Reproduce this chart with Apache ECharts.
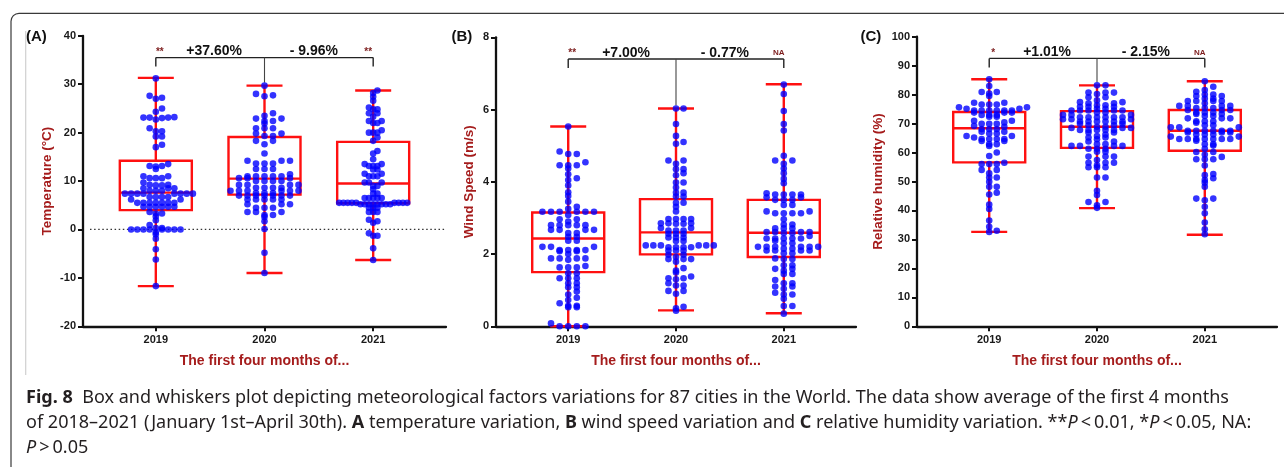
<!DOCTYPE html>
<html><head><meta charset="utf-8">
<script src="https://cdn.jsdelivr.net/npm/echarts@6/dist/echarts.min.js"></script>
<style>html,body{margin:0;padding:0;background:#fff;}#c{width:1284px;height:467px;}</style>
</head><body><div id="c"></div>
<script>
// ---------------- DATA ----------------
const years = ['2019', '2020', '2021'];

// box stats: [min, q1, median, q3, max]
const tempBox = [[-11.7, 4.0, 7.6, 14.2, 31.3], [-9.0, 7.2, 10.5, 19.1, 29.7], [-6.3, 5.4, 9.5, 18.1, 28.7]];
const windBox = [[0, 1.50, 2.43, 3.15, 5.53], [0.44, 1.99, 2.60, 3.52, 6.03], [0.36, 1.92, 2.59, 3.50, 6.70]];
const humBox = [[32.6, 56.6, 68.4, 74.0, 85.3], [40.8, 61.6, 68.9, 74.3, 83.2], [31.6, 60.6, 67.5, 74.7, 84.6]];

// individual city values
const tempY2019 = [31.2, 27.6, 27.2, 27.0, 25.0, 24.3, 23.2, 23.1, 23.1, 23.1, 23.0, 22.7, 20.9, 20.3, 20.3, 19.2, 19.2, 17.5, 17.0, 13.5, 13.1, 13.1, 13.0, 12.5, 11.0, 11.0, 10.6, 10.6, 10.6, 9.7, 9.2, 9.2, 9.1, 9.1, 8.5, 8.5, 8.5, 8.0, 8.0, 8.0, 7.4, 7.4, 7.4, 7.4, 7.4, 7.4, 7.4, 7.4, 6.7, 6.7, 6.7, 6.7, 6.2, 6.2, 5.5, 5.5, 5.5, 5.5, 5.5, 5.5, 5.5, 4.7, 4.7, 4.7, 4.7, 4.7, 4.7, 3.6, 3.3, 3.3, 2.7, 1.9, 0.9, 0.3, 0.3, 0, 0, 0, 0, 0, 0, 0, 0, -0.6, -1.0, -1.9, -4.1, -6.2, -11.7];
const tempY2020 = [29.7, 28.0, 27.7, 27.5, 24.0, 23.5, 22.9, 22.9, 22.4, 22.4, 21.9, 20.9, 20.9, 20.9, 19.8, 19.8, 19.3, 19.3, 18.3, 18.3, 17.6, 15.7, 14.2, 14.2, 14.2, 13.6, 13.6, 13.6, 12.5, 12.5, 12.5, 11.4, 11.0, 11.0, 11.0, 11.0, 11.0, 10.6, 10.6, 10.6, 10.0, 10.0, 10.0, 10.0, 9.2, 9.2, 9.2, 9.2, 8.6, 8.6, 8.6, 8.6, 8.0, 8.0, 8.0, 8.0, 8.0, 8.0, 7.5, 7.5, 7.5, 7.0, 7.0, 7.0, 7.0, 7.0, 7.0, 7.0, 6.2, 6.2, 6.2, 6.2, 6.2, 5.2, 5.2, 5.2, 4.5, 4.5, 4.5, 3.6, 3.6, 3.6, 3.0, 3.0, 2.6, 1.7, 0.1, -4.8, -9.0];
const tempY2021 = [28.7, 28.2, 27.4, 26.6, 25.2, 24.8, 24.8, 24.0, 24.0, 23.3, 22.4, 22.4, 22.0, 22.0, 20.5, 20.0, 20.0, 20.0, 19.0, 18.3, 16.2, 15.7, 14.5, 13.5, 13.5, 13.1, 13.1, 13.1, 12.4, 12.4, 11.5, 11.5, 11.0, 11.0, 11.0, 9.7, 9.7, 9.7, 9.0, 9.0, 8.3, 7.4, 7.4, 6.5, 6.5, 6.5, 6.5, 6.5, 5.5, 5.5, 5.5, 5.5, 5.5, 5.5, 5.5, 5.5, 5.5, 5.2, 5.2, 5.2, 5.2, 5.2, 5.2, 5.2, 5.2, 4.5, 4.5, 4.5, 3.6, 3.6, 3.6, 2.0, 1.7, 1.4, -0.8, -1.3, -1.3, -3.9, -6.3];

const windY2019 = [5.53, 4.84, 4.77, 4.77, 4.54, 4.46, 4.46, 4.46, 4.37, 4.21, 4.10, 4.05, 3.90, 3.71, 3.61, 3.45, 3.31, 3.25, 3.17, 3.17, 3.17, 3.17, 3.17, 3.17, 3.08, 2.96, 2.96, 2.90, 2.80, 2.80, 2.80, 2.80, 2.80, 2.67, 2.67, 2.67, 2.67, 2.58, 2.58, 2.48, 2.48, 2.37, 2.37, 2.20, 2.20, 2.20, 2.11, 2.11, 2.11, 2.11, 2.08, 2.08, 2.00, 1.88, 1.88, 1.88, 1.88, 1.84, 1.67, 1.63, 1.63, 1.63, 1.47, 1.47, 1.33, 1.33, 1.33, 1.19, 1.19, 1.08, 1.08, 0.96, 0.88, 0.79, 0.73, 0.64, 0.57, 0.57, 0.53, 0.53, 0.08, 0, 0, 0, 0];
const windY2020 = [6.03, 6.03, 5.60, 5.27, 5.10, 5.05, 4.59, 4.59, 4.50, 4.35, 4.35, 4.24, 4.18, 3.98, 3.98, 3.84, 3.70, 3.70, 3.59, 3.59, 3.42, 3.42, 3.31, 3.18, 2.97, 2.97, 2.97, 2.97, 2.85, 2.85, 2.85, 2.84, 2.84, 2.72, 2.72, 2.65, 2.65, 2.65, 2.56, 2.56, 2.56, 2.46, 2.46, 2.46, 2.36, 2.36, 2.24, 2.24, 2.24, 2.24, 2.24, 2.24, 2.19, 2.19, 2.19, 2.19, 2.10, 2.10, 2.10, 1.98, 1.98, 1.92, 1.86, 1.86, 1.86, 1.79, 1.61, 1.54, 1.49, 1.38, 1.33, 1.33, 1.30, 1.19, 1.13, 1.13, 0.98, 0.98, 0.90, 0.54, 0.50, 0.43];
const windY2021 = [6.69, 6.43, 5.96, 5.60, 5.42, 4.72, 4.59, 4.59, 4.50, 4.37, 4.24, 4.08, 3.96, 3.68, 3.65, 3.65, 3.65, 3.65, 3.57, 3.57, 3.50, 3.50, 3.50, 3.36, 3.36, 3.18, 3.18, 3.13, 3.13, 3.13, 3.13, 2.96, 2.82, 2.82, 2.71, 2.71, 2.71, 2.61, 2.61, 2.61, 2.61, 2.58, 2.58, 2.50, 2.43, 2.43, 2.43, 2.43, 2.43, 2.37, 2.30, 2.30, 2.20, 2.20, 2.20, 2.20, 2.20, 2.20, 2.15, 2.15, 2.10, 2.10, 2.10, 2.10, 2.02, 2.02, 1.88, 1.86, 1.86, 1.69, 1.69, 1.59, 1.59, 1.54, 1.45, 1.45, 1.28, 1.19, 1.19, 1.10, 1.10, 1.04, 0.93, 0.88, 0.88, 0.76, 0.56, 0.56, 0.35];

const humY2019 = [85.3, 83.0, 80.9, 80.9, 80.4, 79.5, 77.2, 77.2, 76.6, 76.6, 76.6, 75.6, 75.6, 75.1, 75.1, 74.5, 74.5, 74.5, 74.5, 74.5, 74.5, 73.8, 73.8, 73.8, 73.0, 73.0, 73.0, 72.4, 72.4, 71.0, 71.0, 70.4, 69.9, 69.9, 69.9, 69.2, 68.9, 68.1, 68.1, 68.1, 67.2, 67.2, 66.6, 66.6, 65.7, 65.7, 65.2, 64.7, 64.7, 64.7, 64.7, 64.0, 64.0, 62.9, 62.9, 62.3, 60.0, 58.8, 56.5, 56.0, 56.0, 56.0, 54.0, 54.0, 52.8, 51.4, 51.4, 49.9, 48.2, 48.2, 46.1, 45.5, 42.0, 40.5, 36.5, 34.4, 33.0, 32.6];
const humY2020 = [83.2, 83.2, 80.7, 80.7, 80.7, 80.2, 79.1, 79.1, 78.0, 77.4, 77.4, 77.0, 77.0, 76.3, 76.3, 75.8, 75.8, 75.8, 75.1, 75.1, 74.5, 74.5, 74.5, 74.5, 74.5, 73.8, 73.8, 73.0, 73.0, 73.0, 72.2, 72.2, 72.2, 72.2, 72.2, 72.2, 71.5, 71.5, 71.5, 70.7, 70.7, 70.7, 70.7, 70.7, 70.7, 69.9, 69.9, 69.4, 69.4, 68.9, 68.9, 68.5, 68.5, 68.5, 67.8, 67.8, 67.8, 67.8, 67.8, 66.9, 66.9, 66.2, 65.7, 65.2, 65.2, 64.6, 63.8, 63.8, 62.9, 62.9, 62.3, 62.3, 62.3, 62.3, 61.3, 61.3, 61.3, 60.3, 60.3, 58.6, 58.6, 58.6, 57.4, 56.5, 56.5, 56.5, 55.6, 54.9, 54.9, 54.9, 51.4, 51.4, 46.8, 45.3, 42.9, 42.9, 41.8, 40.9];
const humY2021 = [84.6, 82.7, 81.6, 81.0, 80.0, 80.0, 79.5, 79.5, 78.6, 78.6, 77.8, 77.8, 77.8, 77.8, 77.0, 76.1, 76.1, 76.1, 76.1, 75.4, 75.4, 75.4, 74.7, 74.7, 74.7, 73.8, 73.8, 73.8, 73.3, 73.3, 72.6, 72.6, 71.8, 71.8, 71.8, 70.8, 70.8, 70.8, 70.3, 69.4, 69.4, 68.7, 68.7, 68.7, 67.5, 67.5, 67.5, 67.5, 67.5, 67.5, 66.9, 66.9, 66.9, 66.2, 66.2, 66.2, 65.5, 65.5, 64.7, 64.7, 64.7, 64.7, 64.7, 64.7, 64.7, 64.1, 62.9, 62.9, 62.4, 61.3, 60.2, 60.2, 59.3, 58.5, 57.7, 57.7, 57.7, 55.5, 52.6, 52.2, 51.1, 50.5, 49.6, 48.2, 44.1, 44.1, 43.5, 41.3, 39.0, 35.8, 33.5, 31.8];

// significance annotations
const bracketLevel = [35.5, 7.40, 92.5];
const pctLabels = [['+37.60%', '- 9.96%'], ['+7.00%', '- 0.77%'], ['+1.01%', '- 2.15%']];
const sigLabels = [['**', '**'], ['**', 'NA'], ['*', 'NA']];

// axes
const yMin = [-20, 0, 0];
const yMax = [40, 8, 100];
const yInterval = [10, 2, 10];
const yNames = ['Temperature (°C)', 'Wind Speed (m/s)', 'Relative humidity (%)'];
const xName = 'The first four months of...';
const panelLabels = ['(A)', '(B)', '(C)'];

// ---------------- LAYOUT / STYLE ----------------
const gridLeft = [83, 496, 917];
const gridWidth = [363, 360, 360];
const gridTop = [35.8, 37.3, 36.7];
const gridBottomPx = 326.3;
const yNameGap = [29, 20, 32];
const panelLabelX = [26, 451.5, 860.5];
const FONT = 'Liberation Sans';
const RED = '#ff1010';
const BLUE = '#0000ff';
const TITLE_RED = '#a51c1c';
const SIG_RED = '#7d1d1d';

const boxes = [tempBox, windBox, humBox];
const dots = [[tempY2019, tempY2020, tempY2021], [windY2019, windY2020, windY2021], [humY2019, humY2020, humY2021]];

const chart = echarts.init(document.getElementById('c'), null, {renderer: 'canvas'});

function renderBox(params, api) {
  const x = api.value(0);
  const mn = api.coord([x, api.value(1)]);
  const q1 = api.coord([x, api.value(2)]);
  const md = api.coord([x, api.value(3)]);
  const q3 = api.coord([x, api.value(4)]);
  const mx = api.coord([x, api.value(5)]);
  const cx = mn[0], bw = 36, cw = 18;
  const st = {stroke: RED, lineWidth: 2.4, fill: 'none'};
  return {type: 'group', children: [
    {type: 'line', shape: {x1: cx, y1: q3[1], x2: cx, y2: mx[1]}, style: st},
    {type: 'line', shape: {x1: cx, y1: q1[1], x2: cx, y2: mn[1]}, style: st},
    {type: 'line', shape: {x1: cx - cw, y1: mx[1], x2: cx + cw, y2: mx[1]}, style: st},
    {type: 'line', shape: {x1: cx - cw, y1: mn[1], x2: cx + cw, y2: mn[1]}, style: st},
    {type: 'rect', shape: {x: cx - bw, y: q3[1], width: 2 * bw, height: q1[1] - q3[1]}, style: st},
    {type: 'line', shape: {x1: cx - bw, y1: md[1], x2: cx + bw, y2: md[1]}, style: st}
  ]};
}

function txt(x, baseline, text, size, color, align) {
  return {type: 'text', x: x, y: baseline - 0.33 * size, style: {
    text: text, fontSize: size, fontWeight: 'bold', fontFamily: FONT, fill: color,
    align: align || 'center', verticalAlign: 'middle'}};
}

function makeBracket(pi) {
  return function (params, api) {
    const ly = api.coord([1, api.value(0)])[1];
    const x0 = api.coord([0, 0])[0], x1 = api.coord([1, 0])[0], x2 = api.coord([2, 0])[0];
    const midTop = api.coord([1, api.value(1)])[1] - 3;
    const ls = {stroke: '#222', lineWidth: 1.4};
    const ch = [
      {type: 'line', shape: {x1: x0, y1: ly, x2: x2, y2: ly}, style: ls},
      {type: 'line', shape: {x1: x0, y1: ly, x2: x0, y2: ly + 9}, style: ls},
      {type: 'line', shape: {x1: x2, y1: ly, x2: x2, y2: ly + 9}, style: ls},
      {type: 'line', shape: {x1: x1, y1: ly, x2: x1, y2: midTop}, style: {stroke: '#444', lineWidth: 1.1}},
      txt((x0 + x1) / 2 + 4, ly - 1.7, pctLabels[pi][0], 14, '#111'),
      txt((x1 + x2) / 2 - 5, ly - 1.7, pctLabels[pi][1], 14, '#111')
    ];
    const s0 = sigLabels[pi][0], s1 = sigLabels[pi][1];
    ch.push(txt(x0 + 4, ly - 2, s0, s0 === 'NA' ? 8 : 10, SIG_RED));
    ch.push(txt(x2 - 5, ly - (s1 === 'NA' ? 3.4 : 2), s1, s1 === 'NA' ? 8 : 10, SIG_RED));
    if (pi === 0) {
      const cs = params.coordSys;
      const zy = api.coord([0, 0])[1];
      ch.push({type: 'line', shape: {x1: cs.x + 7, y1: zy, x2: cs.x + cs.width, y2: zy},
        style: {stroke: '#333', lineWidth: 1.2, lineDash: [1.5, 2.6]}});
    }
    return {type: 'group', children: ch};
  };
}

const grids = [], xAxes = [], yAxes = [], series = [];
for (let p = 0; p < 3; p++) {
  grids.push({left: gridLeft[p], top: gridTop[p], width: gridWidth[p], height: gridBottomPx - gridTop[p]});
  xAxes.push({
    gridIndex: p, type: 'value', min: -0.67, max: 2.67,
    name: xName, nameLocation: 'middle', nameGap: 28,
    nameTextStyle: {fontSize: 14, fontWeight: 'bold', color: TITLE_RED, fontFamily: FONT},
    axisLine: {onZero: false, lineStyle: {color: '#111', width: 2.3}},
    axisTick: {customValues: [0, 1, 2], length: 5, lineStyle: {color: '#111', width: 2}},
    axisLabel: {customValues: [0, 1, 2], formatter: v => years[Math.round(v)], margin: 8,
      fontSize: 11, fontWeight: 'bold', color: '#1a1a1a', fontFamily: FONT},
    splitLine: {show: false}
  });
  yAxes.push({
    gridIndex: p, type: 'value', min: yMin[p], max: yMax[p], interval: yInterval[p],
    name: yNames[p], nameLocation: 'middle', nameGap: yNameGap[p],
    nameTextStyle: {fontSize: 13.5, fontWeight: 'bold', color: TITLE_RED, fontFamily: FONT},
    axisLine: {show: true, onZero: false, lineStyle: {color: '#111', width: 2.3}},
    axisTick: {show: true, length: 5, lineStyle: {color: '#111', width: 2}},
    axisLabel: {margin: 7, fontSize: 11, fontWeight: 'bold', color: '#1a1a1a', fontFamily: FONT},
    splitLine: {show: false}
  });
  series.push({
    id: 'box' + p, type: 'custom', xAxisIndex: p, yAxisIndex: p, z: 2, silent: true,
    renderItem: renderBox, encode: {x: 0, y: [1, 2, 3, 4, 5]},
    data: boxes[p].map((b, i) => [i].concat(b))
  });
  series.push({
    id: 'br' + p, type: 'custom', xAxisIndex: p, yAxisIndex: p, z: 1, silent: true, clip: false,
    renderItem: makeBracket(p), encode: {x: -1, y: [0, 1]},
    data: [[bracketLevel[p], boxes[p][1][4]]]
  });
  for (let g = 0; g < 3; g++) {
    series.push({
      id: 'dots' + p + '_' + g, type: 'scatter', xAxisIndex: p, yAxisIndex: p, z: 3, silent: true,
      clip: false, symbol: 'circle', symbolSize: 6.6, itemStyle: {color: BLUE}, data: []
    });
  }
}

// caption
const capSize = 18;
const capFamily = 'Noto Sans';
const capColor = '#231f20';
const capLines = [
  [['b', 'Fig. 8'], ['r', '  Box and whiskers plot depicting meteorological factors variations for 87 cities in the World. The data show average of the first 4 months']],
  [['r', 'of 2018–2021 (January 1st–April 30th). '], ['b', 'A'], ['r', ' temperature variation, '], ['b', 'B'], ['r', ' wind speed variation and '], ['b', 'C'], ['r', ' relative humidity variation. **'], ['i', 'P'], ['r', '\u2009<\u20090.01, *'], ['i', 'P'], ['r', '\u2009<\u20090.05, NA:']],
  [['i', 'P'], ['r', '\u2009>\u20090.05']]
];
const capBaselines = [404, 429, 454];
const capStyles = {
  r: {fontSize: capSize, fontFamily: capFamily, fontWeight: 'normal', fontStyle: 'normal', fill: capColor},
  b: {fontSize: capSize, fontFamily: capFamily, fontWeight: 'bold', fontStyle: 'normal', fill: capColor},
  i: {fontSize: capSize, fontFamily: capFamily, fontWeight: 'normal', fontStyle: 'italic', fill: capColor}
};
const mctx = document.createElement('canvas').getContext('2d');
function segWidth(segs) {
  let w = 0;
  for (const [s, t] of segs) {
    const st = capStyles[s];
    mctx.font = `${st.fontStyle} ${st.fontWeight} ${capSize}px "${capFamily}"`;
    w += mctx.measureText(t).width;
  }
  return w;
}
const capScale = 1203 / segWidth(capLines[0]);

const graphics = [
  {type: 'rect', shape: {x: 11, y: 13.3, width: 1400, height: 600, r: 8}, style: {fill: 'none', stroke: '#3a3a3a', lineWidth: 1.2}, silent: true},
  {type: 'line', shape: {x1: 25.7, y1: 31, x2: 25.7, y2: 375}, style: {stroke: '#d0d0d0', lineWidth: 1.2}, silent: true}
];
for (let p = 0; p < 3; p++) {
  graphics.push({type: 'text', x: panelLabelX[p], y: 37, style: {text: panelLabels[p], fontSize: 15, fontWeight: 'bold',
    fontFamily: FONT, fill: '#111', align: 'left', verticalAlign: 'middle'}});
}
capLines.forEach((segs, li) => {
  graphics.push({type: 'text', x: 26, y: capBaselines[li] - 0.35 * capSize, scaleX: capScale, originX: 0, originY: 0,
    style: {text: segs.map(([s, t]) => '{' + s + '|' + t + '}').join(''), rich: capStyles,
      fontSize: capSize, fontFamily: capFamily, fill: capColor, align: 'left', verticalAlign: 'middle'}});
});

chart.setOption({
  animation: false,
  textStyle: {fontFamily: FONT},
  grid: grids, xAxis: xAxes, yAxis: yAxes, series: series, graphic: graphics
});

// beeswarm layout (rows of nearby values, uniform spacing per group)
const BIN_H = 3.6, MAX_STEP = 8.6, MAX_W = 68;
function swarm(vals, g, gi) {
  const pxX = chart.convertToPixel({gridIndex: gi}, [1, 0])[0] - chart.convertToPixel({gridIndex: gi}, [0, 0])[0];
  const pts = vals.map(v => ({v: v, py: chart.convertToPixel({gridIndex: gi}, [g, v])[1]}));
  pts.sort((a, b) => a.py - b.py);
  const rows = [];
  let cur = null;
  for (const p of pts) {
    if (!cur || p.py - cur.top > BIN_H) { cur = {top: p.py, items: []}; rows.push(cur); }
    cur.items.push(p);
  }
  const maxN = Math.max.apply(null, rows.map(r => r.items.length));
  const s = maxN > 1 ? Math.min(MAX_STEP, MAX_W / (maxN - 1)) : MAX_STEP;
  const out = [];
  for (const r of rows) {
    r.items.sort((a, b) => a.v - b.v);
    r.items.forEach((p, i) => {
      const col = i === 0 ? 0 : (i % 2 ? (i + 1) / 2 : -i / 2);
      out.push([g + col * s / pxX, p.v]);
    });
  }
  return out;
}
const upd = [];
for (let p = 0; p < 3; p++) for (let g = 0; g < 3; g++) upd.push({id: 'dots' + p + '_' + g, data: swarm(dots[p][g], g, p)});
chart.setOption({series: upd});
</script>
</body></html>
